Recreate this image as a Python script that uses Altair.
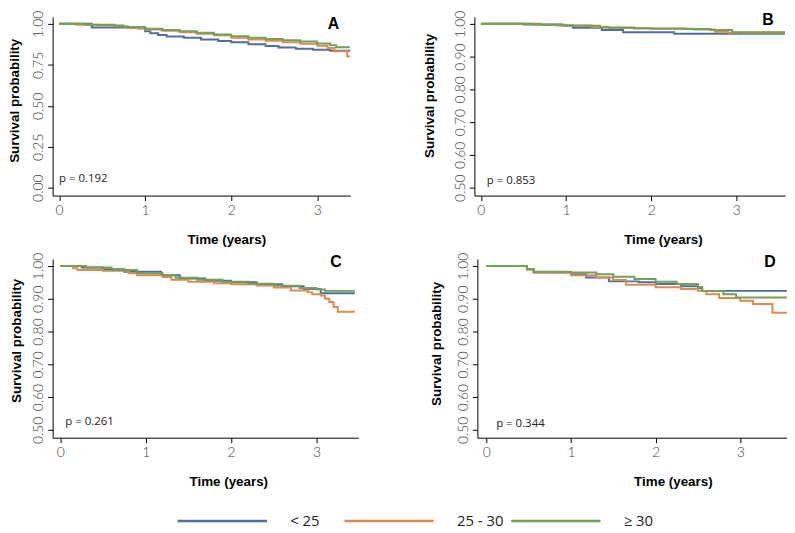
import altair as alt
import pandas as pd

GROUPS = ["< 25", "25 - 30", "≥ 30"]
COLORS = ["#4f6f9f", "#dd8b4e", "#74a05a"]

# ---------------- Panel A ----------------
A_lt25_t = [0, 0.38, 0.92, 1.00, 1.06, 1.15, 1.25, 1.45, 1.65, 1.85, 2.00, 2.20, 2.40, 2.55, 2.75, 2.95, 3.15, 3.38]
A_lt25_s = [1.0, 0.978, 0.972, 0.955, 0.943, 0.932, 0.922, 0.915, 0.905, 0.895, 0.887, 0.875, 0.865, 0.855, 0.848, 0.842, 0.835, 0.832]
A_2530_t = [0, 0.20, 0.45, 0.65, 0.80, 1.00, 1.20, 1.40, 1.60, 1.80, 2.00, 2.20, 2.40, 2.60, 2.80, 3.00, 3.12, 3.20, 3.35, 3.38]
A_2530_s = [1.0, 0.995, 0.99, 0.985, 0.975, 0.965, 0.958, 0.948, 0.94, 0.93, 0.915, 0.905, 0.897, 0.888, 0.878, 0.866, 0.852, 0.833, 0.80, 0.80]
A_ge30_t = [0, 0.30, 0.65, 0.75, 1.00, 1.20, 1.40, 1.60, 1.80, 2.00, 2.20, 2.40, 2.60, 2.80, 3.00, 3.15, 3.22, 3.38]
A_ge30_s = [1.0, 0.995, 0.99, 0.98, 0.97, 0.963, 0.955, 0.945, 0.935, 0.925, 0.915, 0.907, 0.90, 0.892, 0.88, 0.87, 0.857, 0.857]

# ---------------- Panel B ----------------
B_lt25_t = [0, 0.50, 0.95, 1.08, 1.42, 1.67, 2.27, 3.57]
B_lt25_s = [1.0, 0.998, 0.995, 0.988, 0.981, 0.974, 0.970, 0.970]
B_2530_t = [0, 0.60, 0.90, 1.30, 1.50, 2.00, 2.50, 2.75, 2.90, 3.57]
B_2530_s = [1.0, 0.997, 0.995, 0.99, 0.987, 0.985, 0.983, 0.976, 0.973, 0.972]
B_ge30_t = [0, 0.70, 1.00, 1.40, 1.80, 2.40, 2.70, 2.95, 3.57]
B_ge30_s = [1.0, 0.997, 0.994, 0.989, 0.986, 0.984, 0.981, 0.974, 0.973]

# ---------------- Panel C ----------------
C_lt25_t = [0, 0.25, 0.50, 0.75, 1.18, 1.40, 1.70, 2.00, 2.30, 2.60, 2.85, 3.05, 3.45]
C_lt25_s = [1.0, 0.995, 0.99, 0.982, 0.972, 0.962, 0.955, 0.95, 0.944, 0.938, 0.93, 0.917, 0.917]
C_2530_t = [0, 0.15, 0.20, 0.50, 0.80, 0.90, 1.20, 1.30, 1.50, 1.80, 2.00, 2.30, 2.50, 2.70, 2.90, 2.95, 3.05, 3.10, 3.15, 3.20, 3.25, 3.45]
C_2530_s = [1.0, 0.993, 0.988, 0.985, 0.978, 0.972, 0.966, 0.958, 0.952, 0.947, 0.944, 0.94, 0.934, 0.925, 0.92, 0.914, 0.91, 0.90, 0.89, 0.875, 0.86, 0.86]
C_ge30_t = [0, 0.30, 0.60, 0.90, 1.20, 1.35, 1.60, 1.90, 2.20, 2.50, 2.80, 3.00, 3.10, 3.45]
C_ge30_s = [1.0, 0.995, 0.988, 0.978, 0.972, 0.964, 0.958, 0.952, 0.946, 0.94, 0.933, 0.928, 0.924, 0.924]

# ---------------- Panel D ----------------
D_lt25_t = [0, 0.48, 0.56, 1.00, 1.18, 1.45, 1.80, 2.00, 2.30, 2.50, 2.55, 3.55]
D_lt25_s = [1.0, 0.99, 0.98, 0.975, 0.965, 0.953, 0.95, 0.945, 0.938, 0.932, 0.924, 0.924]
D_2530_t = [0, 0.48, 0.56, 1.00, 1.30, 1.50, 1.65, 2.00, 2.30, 2.50, 2.60, 2.75, 3.00, 3.15, 3.38, 3.55]
D_2530_s = [1.0, 0.99, 0.98, 0.972, 0.965, 0.957, 0.943, 0.935, 0.93, 0.924, 0.914, 0.902, 0.894, 0.884, 0.857, 0.857]
D_ge30_t = [0, 0.48, 0.56, 1.00, 1.30, 1.50, 1.75, 2.00, 2.25, 2.50, 2.55, 2.80, 2.95, 3.55]
D_ge30_s = [1.0, 0.99, 0.982, 0.98, 0.975, 0.967, 0.96, 0.952, 0.945, 0.936, 0.924, 0.914, 0.904, 0.904]

# panel annotations
LETTERS = ["A", "B", "C", "D"]
LETTER_X = [3.19, 3.37, 3.23, 3.35]
LETTER_Y = [1.0, 1.012, 1.011, 1.011]
P_TEXT = ["p = 0.192", "p = 0.853", "p = 0.261", "p = 0.344"]
P_X = [0.0, 0.07, 0.058, 0.117]
P_Y = [0.05, 0.52, 0.524, 0.519]

Y_TICKS_A = [0.0, 0.25, 0.5, 0.75, 1.0]
Y_TICKS_BCD = [0.5, 0.6, 0.7, 0.8, 0.9, 1.0]
X_TICKS = [0, 1, 2, 3]


def frame(series):
    rows = []
    for g, ts, ss in series:
        for t, s in zip(ts, ss):
            rows.append({"t": t, "s": s, "group": g})
    return pd.DataFrame(rows)


color = alt.Color("group:N", scale=alt.Scale(domain=GROUPS, range=COLORS), legend=None)


def panel(df, i, xdom, ydom, yticks, w, h, ytx, yty, xtx):
    x = alt.X("t:Q", scale=alt.Scale(domain=xdom, nice=False, zero=False),
              axis=alt.Axis(values=X_TICKS, format="d", title="Time (years)",
                            titleX=xtx, titleY=37, titleBaseline="top", titleAlign="center",
                            labelPadding=3))
    y = alt.Y("s:Q", scale=alt.Scale(domain=ydom, nice=False, zero=False),
              axis=alt.Axis(values=yticks, format=".2f", title="Survival probability",
                            labelAngle=270, labelAlign="center", labelBaseline="bottom",
                            labelPadding=2, titleAngle=270, titleX=ytx, titleY=yty,
                            titleBaseline="middle", titleAlign="center"))
    lines = alt.Chart(df).mark_line(interpolate="step-after", strokeWidth=2, clip=True).encode(
        x=x, y=y, color=color)
    let_df = pd.DataFrame({"t": [LETTER_X[i]], "s": [LETTER_Y[i]], "label": [LETTERS[i]]})
    letter = alt.Chart(let_df).mark_text(font="Liberation Sans", fontWeight="bold", fontSize=16,
                                         color="#000", align="center", baseline="middle").encode(
        x=x, y=y, text="label:N")
    p_df = pd.DataFrame({"t": [P_X[i]], "s": [P_Y[i]], "label": [P_TEXT[i]]})
    ptxt = alt.Chart(p_df).mark_text(font="Open Sans", fontSize=11.5, color="#222",
                                     align="left", baseline="middle").encode(
        x=x, y=y, text="label:N")
    return alt.layer(lines, letter, ptxt).properties(width=w, height=h)


dfA = frame([(GROUPS[0], A_lt25_t, A_lt25_s), (GROUPS[1], A_2530_t, A_2530_s), (GROUPS[2], A_ge30_t, A_ge30_s)])
dfB = frame([(GROUPS[0], B_lt25_t, B_lt25_s), (GROUPS[1], B_2530_t, B_2530_s), (GROUPS[2], B_ge30_t, B_ge30_s)])
dfC = frame([(GROUPS[0], C_lt25_t, C_lt25_s), (GROUPS[1], C_2530_t, C_2530_s), (GROUPS[2], C_ge30_t, C_ge30_s)])
dfD = frame([(GROUPS[0], D_lt25_t, D_lt25_s), (GROUPS[1], D_2530_t, D_2530_s), (GROUPS[2], D_ge30_t, D_ge30_s)])

pA = panel(dfA, 0, [-0.075, 3.385], [-0.048, 1.042], Y_TICKS_A, 300, 180, -38, 84, 175)
pB = panel(dfB, 1, [-0.076, 3.571], [0.476, 1.021], Y_TICKS_BCD, 313, 180, -45, 79, 190)
pC = panel(dfC, 2, [-0.09, 3.49], [0.476, 1.021], Y_TICKS_BCD, 308, 180, -36, 82, 177)
pD = panel(dfD, 3, [-0.105, 3.552], [0.476, 1.021], Y_TICKS_BCD, 312, 180, -41, 85, 197)

row1 = alt.hconcat(pA, pB, spacing=125, bounds="flush")
row2 = alt.hconcat(pC, pD, spacing=120, bounds="flush")

# legend built from the group list
leg_df = pd.DataFrame({"group": GROUPS})
leg_scale = alt.Scale(type="band", domain=GROUPS, paddingInner=0, paddingOuter=0.375, align=1)
leg_rules = alt.Chart(leg_df).mark_rule(strokeWidth=2.5).encode(
    x=alt.X("group:N", sort=GROUPS, scale=leg_scale, axis=None, bandPosition=0),
    x2=alt.X2("group:N", bandPosition=0.536),
    y=alt.value(27),
    color=color,
)
leg_text = alt.Chart(leg_df).mark_text(align="left", baseline="middle", font="Open Sans",
                                       fontSize=15, color="#222").encode(
    x=alt.X("group:N", sort=GROUPS, scale=leg_scale, axis=None, bandPosition=0.675),
    y=alt.value(27),
    text="group:N",
)
legend = alt.layer(leg_rules, leg_text).properties(width=630, height=33)

chart = alt.vconcat(row1, row2, legend, spacing=6).properties(
    padding=0
).configure_view(stroke=None).configure_axis(
    grid=False,
    domainColor="#000",
    tickColor="#000",
    domainWidth=1,
    tickSize=5,
    labelFont="Lato",
    labelFontWeight=300,
    labelFontSize=14,
    labelColor="#444",
    titleFont="Liberation Sans",
    titleFontSize=13.5,
    titleFontWeight="bold",
    titleColor="#000",
)

chart.save("out.html", embed_options={"renderer": "svg", "actions": False})
